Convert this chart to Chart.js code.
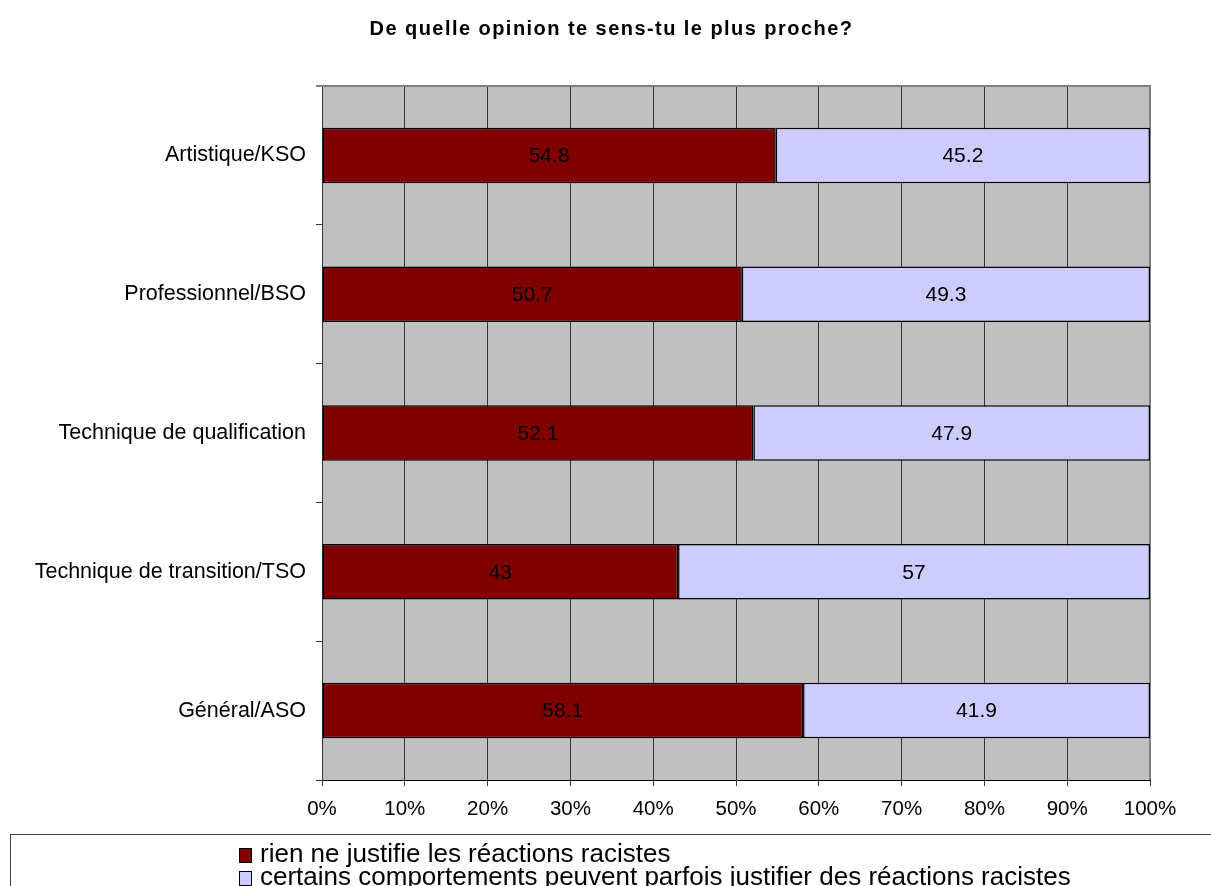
<!DOCTYPE html>
<html>
<head>
<meta charset="utf-8">
<script src="https://cdn.jsdelivr.net/npm/chart.js@4"></script>
<style>
body{margin:0;background:#fff;font-family:"Liberation Sans",Arial,sans-serif;overflow:hidden;}
#wrap{position:relative;width:1211px;height:886px;}
#chart{position:absolute;left:0;top:0;}
#title{position:absolute;left:6px;top:17px;width:1211px;text-align:center;font-weight:bold;font-size:20px;letter-spacing:1.45px;color:#000;}
#legend{position:absolute;left:10px;top:834px;width:1300px;height:100px;border:1px solid #404040;box-sizing:border-box;padding:7px 0 0 228px;}
.item{font-size:26px;line-height:23px;color:#000;white-space:nowrap;}
.box{display:inline-block;width:11px;height:13px;border:1.5px solid #000;margin-right:8px;vertical-align:-1px;}
</style>
</head>
<body>
<div id="wrap">
<canvas id="chart" width="1211" height="886"></canvas>
<div id="title">De quelle opinion te sens-tu le plus proche?</div>
<div id="legend"></div>
</div>
<script>
// data
const categories=["Artistique/KSO","Professionnel/BSO","Technique de qualification","Technique de transition/TSO","Général/ASO"];
const rienValues=[54.8,50.7,52.1,43,58.1];
const certainsValues=[45.2,49.3,47.9,57,41.9];
const seriesNames=["rien ne justifie les réactions racistes","certains comportements peuvent parfois justifier des réactions racistes"];
const seriesColors=["#800000","#CCCCFF"];

// legend in html
let leg=document.getElementById("legend");
seriesNames.forEach((n,i)=>{
let d=document.createElement("div");
d.className="item";
d.innerHTML='<span class="box" style="background:'+seriesColors[i]+'"></span>'+n;
leg.appendChild(d);
});

const plotBg={
id:"plotBg",
beforeDraw(c){
let a=c.chartArea,ctx=c.ctx;
ctx.save();
ctx.fillStyle="#C0C0C0";
ctx.fillRect(a.left,a.top,a.right-a.left,a.bottom-a.top);
ctx.restore();
},
beforeDatasetsDraw(c){
let a=c.chartArea,ctx=c.ctx;
ctx.save();
ctx.strokeStyle="#808080";
ctx.lineWidth=2;
ctx.beginPath();
ctx.moveTo(a.left-6,a.top);
ctx.lineTo(a.right,a.top);
ctx.lineTo(a.right,a.bottom);
ctx.stroke();
ctx.restore();
}
};

const barLabels={
id:"barLabels",
afterDatasetsDraw(c){
let ctx=c.ctx;
ctx.save();
ctx.font="21px 'Liberation Sans', Arial, sans-serif";
ctx.fillStyle="#000";
ctx.textAlign="center";
ctx.textBaseline="middle";
c.data.datasets.forEach((ds,i)=>{
c.getDatasetMeta(i).data.forEach((bar,j)=>{
ctx.fillText(String(ds.data[j]),(bar.x+bar.base)/2,bar.y+1);
});
});
ctx.restore();
}
};

new Chart(document.getElementById("chart"),{
type:"bar",
data:{
labels:categories,
datasets:[
{label:seriesNames[0],data:rienValues,backgroundColor:seriesColors[0],borderColor:"#000",borderWidth:1.5,borderSkipped:false,barPercentage:0.4,categoryPercentage:1},
{label:seriesNames[1],data:certainsValues,backgroundColor:seriesColors[1],borderColor:"#000",borderWidth:1.5,borderSkipped:false,barPercentage:0.4,categoryPercentage:1}
]
},
options:{
indexAxis:"y",
responsive:false,
animation:false,
layout:{padding:{top:86,right:61,left:0,bottom:66}},
plugins:{legend:{display:false},tooltip:{enabled:false}},
scales:{
x:{
stacked:true,
min:0,max:100,
afterFit(s){s.height=40;},
grid:{color:"#333",lineWidth:1,tickLength:6,drawTicks:true},
border:{color:"#000",width:1},
ticks:{stepSize:10,padding:11,color:"#000",font:{family:"'Liberation Sans', Arial, sans-serif",size:20.5},callback:v=>v+"%"}
},
y:{
stacked:true,
afterFit(s){s.width=322;},
grid:{drawOnChartArea:false,offset:true,tickLength:6,color:"#333"},
border:{color:"#333",width:1},
ticks:{padding:10,color:"#000",font:{family:"'Liberation Sans', Arial, sans-serif",size:21.5}}
}
}
},
plugins:[plotBg,barLabels]
});
</script>
</body>
</html>
